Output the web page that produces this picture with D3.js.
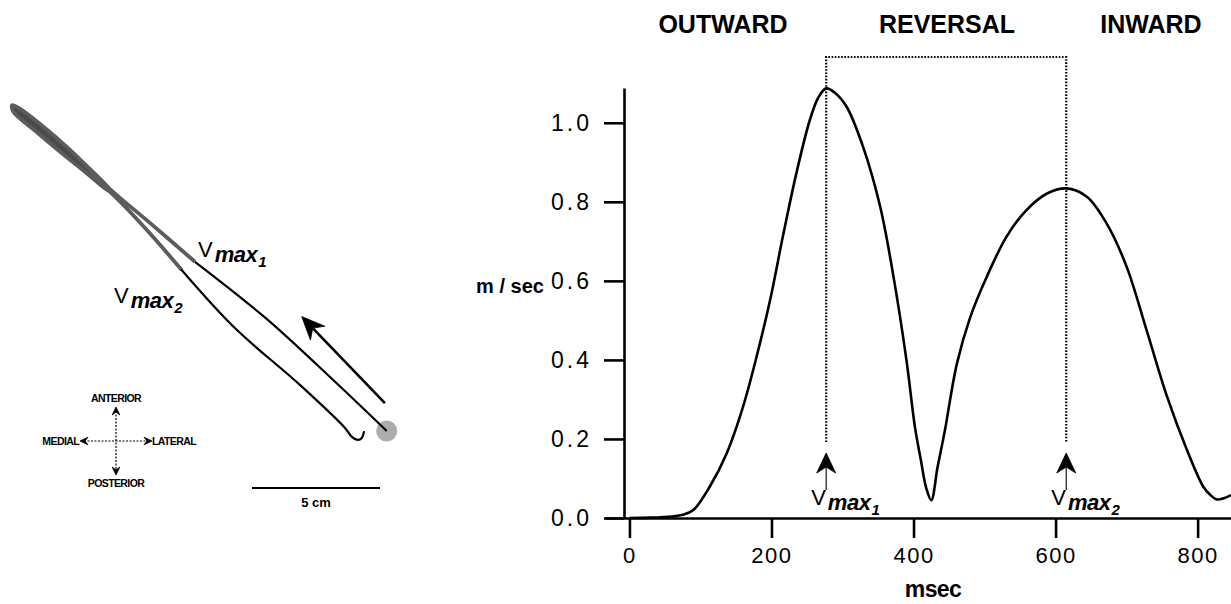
<!DOCTYPE html>
<html><head><meta charset="utf-8">
<script src="https://cdn.jsdelivr.net/npm/d3@7"></script>
<style>
html,body{margin:0;padding:0;background:#fff;}
svg{display:block;font-family:"Liberation Sans",Arial,Helvetica,sans-serif;}
</style></head><body>
<svg id="chart" width="1231" height="604"></svg>
<script>
// ---------- DATA ----------
// tangential hand speed (m/sec) vs time (msec)
const timeMs   = [0, 30, 60, 75, 90, 113, 137, 160, 179, 198, 216, 235, 254, 266, 277, 290, 306, 329, 353, 371, 390, 402, 410, 418, 425, 434, 444, 461, 480, 503, 531, 559, 588, 615, 644, 672, 700, 728, 757, 785, 808, 818, 827, 837, 847];
const speedMps = [0, 0.001, 0.004, 0.008, 0.02, 0.079, 0.164, 0.282, 0.408, 0.551, 0.712, 0.872, 1.007, 1.064, 1.087, 1.075, 1.040, 0.939, 0.788, 0.619, 0.40, 0.23, 0.15, 0.075, 0.045, 0.13, 0.22, 0.39, 0.509, 0.610, 0.712, 0.779, 0.821, 0.834, 0.813, 0.745, 0.636, 0.476, 0.307, 0.172, 0.079, 0.058, 0.047, 0.050, 0.058];
const xTickValues = [0, 200, 400, 600, 800];
const yTickValues = [0, 0.2, 0.4, 0.6, 0.8, 1.0];
const phaseNames = ["OUTWARD", "REVERSAL", "INWARD"];
const vmaxTimes = [277, 615];
const vmaxSubs = ["1", "2"];

// hand path (cm; +x lateral, +y anterior; origin = start target)
const outwardX = [0, -2.09, -4.69, -7.49];
const outwardY = [0, 1.99, 4.38, 6.61];
const reversalX = [-7.49, -9.25, -10.81, -12.37, -13.54, -14.32, -14.63, -14.60, -13.63, -12.37, -10.81, -9.44, -8.01];
const reversalY = [6.61, 8.13, 9.45, 10.98, 11.99, 12.58, 12.73, 12.50, 11.64, 10.59, 9.34, 7.93, 6.29];
const inwardX = [-8.01, -5.93, -3.39, -1.63, -1.36, -1.12, -0.97, -0.89];
const inwardY = [6.29, 4.02, 1.80, 0.12, -0.23, -0.35, -0.27, -0.04];
const directionArrowX = [-0.07, -3.32];
const directionArrowY = [1.09, 4.47];
const scaleBarCm = 5;
const compassNames = ["ANTERIOR", "POSTERIOR", "MEDIAL", "LATERAL"];

// ---------- DRAW ----------
const svg = d3.select("#chart");
const FONT = '"Liberation Sans",Arial,Helvetica,sans-serif';

function arrowHead(g, tx, ty, ux, uy, L, W, N, color) {
  const px = -uy, py = ux;
  const pts = [
    [tx, ty],
    [tx - L*ux + W*px, ty - L*uy + W*py],
    [tx - (L-N)*ux, ty - (L-N)*uy],
    [tx - L*ux - W*px, ty - L*uy - W*py]
  ];
  g.append("path").attr("d", "M" + pts.map(p => p.join(",")).join("L") + "Z")
    .attr("fill", color).attr("stroke", color).attr("stroke-width", 0.8).attr("stroke-linejoin", "round");
}

function vmaxLabel(g, x, y, sub) {
  const t = g.append("text").attr("x", x).attr("y", y).attr("fill", "#000").attr("font-family", FONT);
  t.append("tspan").attr("font-size", 22).text("V");
  t.append("tspan").attr("font-size", 22).attr("font-weight", "bold").attr("font-style", "italic")
    .attr("dx", 2).attr("dy", 5).attr("letter-spacing", -0.5).text("max");
  t.append("tspan").attr("font-size", 15).attr("font-weight", "bold").attr("font-style", "italic")
    .attr("dx", 1).attr("dy", 5).text(sub);
}

// ----- right panel: speed profile -----
const x = d3.scaleLinear().domain([-33, 847]).range([606, 1231]);
const y = d3.scaleLinear().domain([0, 1.088]).range([518, 88]);
const plot = svg.append("g");

// x axis
const xAxis = plot.append("g").attr("transform", "translate(0,518)")
  .call(d3.axisBottom(x).tickValues(xTickValues).tickSize(20).tickPadding(9).tickSizeOuter(0).tickFormat(d3.format("d")));
xAxis.select(".domain").attr("stroke", "#000").attr("stroke-width", 2.6);
xAxis.selectAll(".tick line").attr("stroke", "#000").attr("stroke-width", 2.6);
xAxis.selectAll(".tick text").attr("font-family", FONT).attr("font-size", 22).attr("letter-spacing", 1.5).attr("fill", "#000");

// y axis
const yAxis = plot.append("g").attr("transform", "translate(624,0)")
  .call(d3.axisLeft(y).tickValues(yTickValues).tickSize(20).tickPadding(12).tickSizeOuter(0).tickFormat(d3.format(".1f")));
yAxis.select(".domain").attr("stroke", "#000").attr("stroke-width", 2.6);
yAxis.selectAll(".tick line").attr("stroke", "#000").attr("stroke-width", 2.6);
yAxis.selectAll(".tick text").attr("font-family", FONT).attr("font-size", 23).attr("letter-spacing", 3).attr("fill", "#000");

// curve
const speedData = timeMs.map((t, i) => [t, speedMps[i]]);
plot.append("path").datum(speedData)
  .attr("d", d3.line().x(d => x(d[0])).y(d => y(d[1])).curve(d3.curveCatmullRom.alpha(0.5)))
  .attr("fill", "none").attr("stroke", "#000").attr("stroke-width", 2.6).attr("stroke-linejoin", "round");

// dotted bracket
const bracketTop = 57, dotBottom = 442;
plot.append("path")
  .attr("d", `M${x(vmaxTimes[0])},${dotBottom}V${bracketTop}H${x(vmaxTimes[1])}V${dotBottom}`)
  .attr("fill", "none").attr("stroke", "#000").attr("stroke-width", 2.2).attr("stroke-dasharray", "1.6,1.6");

// vmax arrows
vmaxTimes.forEach((t, i) => {
  const xv = x(t);
  plot.append("line").attr("x1", xv).attr("x2", xv).attr("y1", 456).attr("y2", 490)
    .attr("stroke", "#000").attr("stroke-width", 1.1);
  arrowHead(plot, xv, 453, 0, -1, 20, 9.5, 6, "#000");
  vmaxLabel(plot, xv - 15, 505, vmaxSubs[i]);
});

// phase labels
const phaseCenters = [723, 947, 1151];
phaseNames.forEach((n, i) => {
  plot.append("text").attr("x", phaseCenters[i]).attr("y", 33).attr("text-anchor", "middle")
    .attr("font-family", FONT).attr("font-size", 25).attr("font-weight", "bold").text(n);
});

// axis titles
plot.append("text").attr("x", 510).attr("y", 293).attr("text-anchor", "middle")
  .attr("font-family", FONT).attr("font-size", 20).attr("font-weight", "bold").text("m / sec");
plot.append("text").attr("x", 933).attr("y", 597).attr("text-anchor", "middle")
  .attr("font-family", FONT).attr("font-size", 23).attr("font-weight", "bold").attr("letter-spacing", -0.6).text("msec");

// ----- left panel: hand path -----
const lx = d3.scaleLinear().domain([0, 1]).range([386.7, 412.3]);
const ly = d3.scaleLinear().domain([0, 1]).range([431, 405.4]);
const left = svg.append("g");
const pathLine = d3.line().x(d => lx(d[0])).y(d => ly(d[1])).curve(d3.curveCatmullRom.alpha(0.5));

// start target
left.append("circle").attr("cx", lx(0)).attr("cy", ly(0)).attr("r", 10.5).attr("fill", "#adadad");

// gray reversal loop: filled tip + strands
const revPts = reversalX.map((v, i) => [v, reversalY[i]]);
const tipPts = revPts.filter(p => p[0] <= -10.8);
left.append("path").attr("d", d3.line().x(d => lx(d[0])).y(d => ly(d[1])).curve(d3.curveCatmullRomClosed.alpha(0.5))(tipPts))
  .attr("fill", "#4a4a4a").attr("stroke", "#555").attr("stroke-width", 2.4);
left.append("path").datum(revPts).attr("d", pathLine)
  .attr("fill", "none").attr("stroke", "#5c5c5c").attr("stroke-width", 3.8).attr("stroke-linejoin", "round");

// black outward / inward
left.append("path").datum(outwardX.map((v, i) => [v, outwardY[i]])).attr("d", pathLine)
  .attr("fill", "none").attr("stroke", "#000").attr("stroke-width", 2.2);
left.append("path").datum(inwardX.map((v, i) => [v, inwardY[i]])).attr("d", pathLine)
  .attr("fill", "none").attr("stroke", "#000").attr("stroke-width", 2.2).attr("stroke-linecap", "round");

// direction arrow
{
  const x0 = lx(directionArrowX[0]), y0 = ly(directionArrowY[0]);
  const x1 = lx(directionArrowX[1]), y1 = ly(directionArrowY[1]);
  const len = Math.hypot(x1 - x0, y1 - y0), ux = (x1 - x0) / len, uy = (y1 - y0) / len;
  left.append("line").attr("x1", x0).attr("y1", y0).attr("x2", x1 - ux * 10).attr("y2", y1 - uy * 10)
    .attr("stroke", "#000").attr("stroke-width", 2.6);
  arrowHead(left, x1, y1, ux, uy, 23, 10, 7, "#000");
}

// Vmax labels on path
vmaxLabel(left, 198, 257, "1");
vmaxLabel(left, 114, 303, "2");

// scale bar
left.append("line").attr("x1", 252).attr("x2", 252 + (lx(scaleBarCm) - lx(0))).attr("y1", 488).attr("y2", 488)
  .attr("stroke", "#000").attr("stroke-width", 2);
left.append("text").attr("x", 316).attr("y", 507).attr("text-anchor", "middle")
  .attr("font-family", FONT).attr("font-size", 13).attr("font-weight", "bold").text(scaleBarCm + " cm");

// compass
{
  const cx = 116, cy = 441, arm = 34;
  const c = left.append("g");
  c.append("line").attr("x1", cx).attr("x2", cx).attr("y1", cy - arm + 4).attr("y2", cy + arm - 4)
    .attr("stroke", "#000").attr("stroke-width", 1.2).attr("stroke-dasharray", "2,1.5");
  c.append("line").attr("x1", cx - arm - 2 + 4).attr("x2", cx + arm + 2 - 4).attr("y1", cy).attr("y2", cy)
    .attr("stroke", "#000").attr("stroke-width", 1.2).attr("stroke-dasharray", "2,1.5");
  arrowHead(c, cx, cy - arm, 0, -1, 8, 3.8, 3, "#000");
  arrowHead(c, cx, cy + arm, 0, 1, 8, 3.8, 3, "#000");
  arrowHead(c, cx - arm - 2, cy, -1, 0, 8, 3.8, 3, "#000");
  arrowHead(c, cx + arm + 2, cy, 1, 0, 8, 3.8, 3, "#000");
  const fs = 10.5;
  const style = t => t.attr("font-family", FONT).attr("font-size", fs).attr("font-weight", "bold").attr("letter-spacing", -0.6);
  style(c.append("text").attr("x", cx).attr("y", cy - arm - 5).attr("text-anchor", "middle").text(compassNames[0]));
  style(c.append("text").attr("x", cx).attr("y", cy + arm + 12).attr("text-anchor", "middle").text(compassNames[1]));
  style(c.append("text").attr("x", cx - arm - 3).attr("y", cy + 4).attr("text-anchor", "end").text(compassNames[2]));
  style(c.append("text").attr("x", cx + arm + 2).attr("y", cy + 4).attr("text-anchor", "start").text(compassNames[3]));
}
</script>
</body></html>
